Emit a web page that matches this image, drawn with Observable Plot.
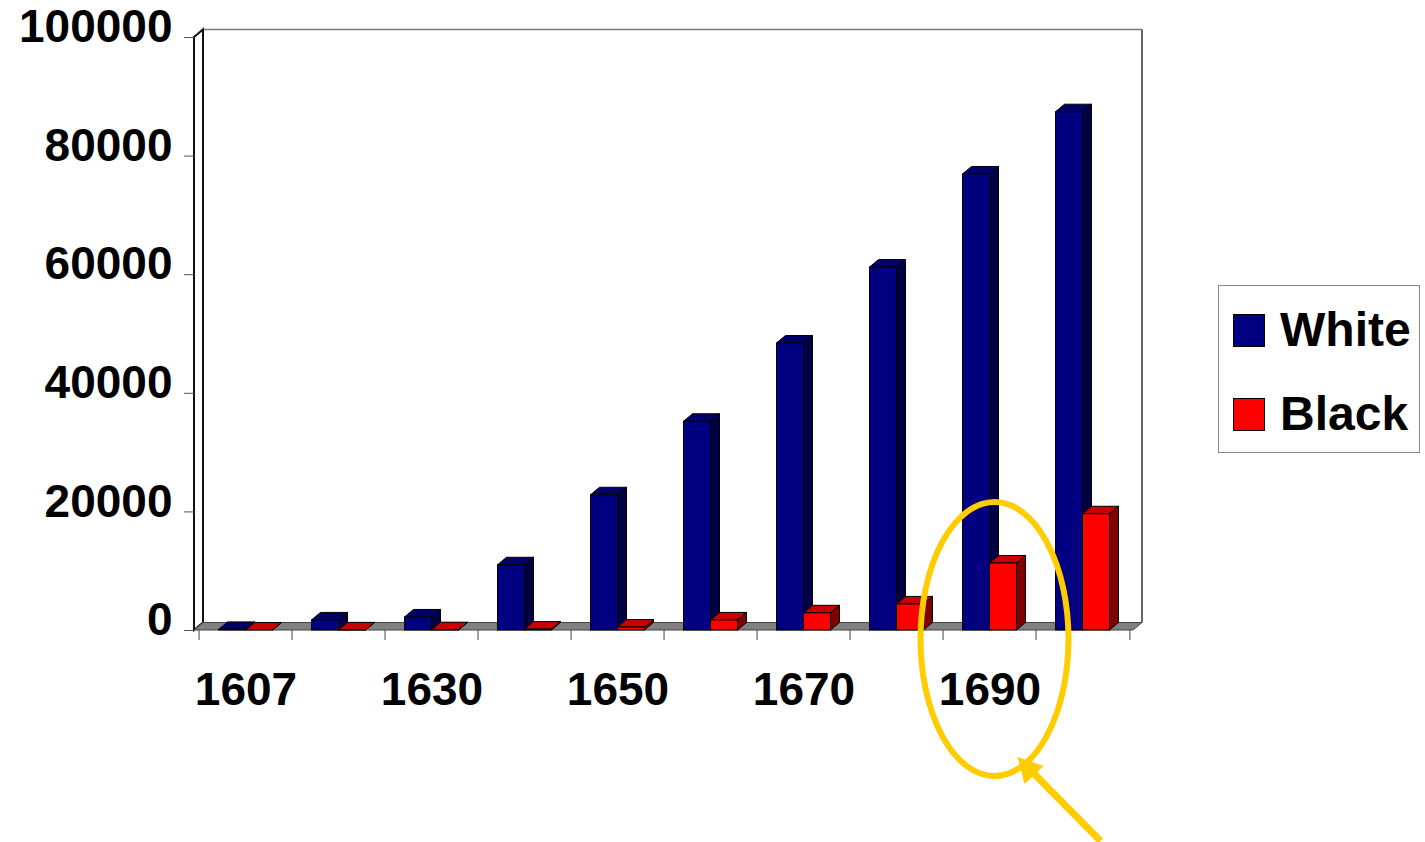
<!DOCTYPE html>
<html>
<head>
<meta charset="utf-8">
<script src="https://cdn.jsdelivr.net/npm/d3@7"></script>
<script src="https://cdn.jsdelivr.net/npm/@observablehq/plot@0.6"></script>
<style>
  html, body { margin: 0; padding: 0; background: #fff; }
  #wrap { position: relative; width: 1425px; height: 842px; }
  #legend { position: absolute; left: 1218px; top: 285px; width: 202px; height: 168px;
    border: 1px solid #888; box-sizing: border-box; background: #fff;
    font-family: "Liberation Sans", Arial, sans-serif; font-weight: bold; font-size: 48px; }
  .item { position: absolute; left: 14px; height: 48px; display: flex; align-items: center; line-height: 48px; }
  .sw { width: 32px; height: 33px; box-sizing: border-box; border: 1px solid #000; margin-right: 15px; }
</style>
</head>
<body>
<div id="wrap">
  <div id="chart"></div>
  <div id="legend"></div>
</div>
<script>
// ---- data ----
const years = [1607, 1620, 1630, 1640, 1650, 1660, 1670, 1680, 1690, 1700];
const whitePop = [100, 1700, 2200, 11000, 22800, 35200, 48400, 61200, 76900, 87400];
const blackPop = [0, 20, 50, 150, 500, 1700, 2900, 4400, 11300, 19600];
const seriesNames = ["White", "Black"];
const xTickLabels = [1607, 1630, 1650, 1670, 1690];
const yTicks = [0, 20000, 40000, 60000, 80000, 100000];
const highlightYear = 1690;

// ---- styles ----
const colors = {
  White: {front: "#000080", top: "#000068", side: "#000044"},
  Black: {front: "#ff0000", top: "#c80000", side: "#800000"}
};
const DX = 9, DY = -7.5;          // 3D depth offset
const HALF = 13.5;                 // half bar width offset
const FONT = "'Liberation Sans', Arial, sans-serif";

const whiteRows = years.map((year, i) => ({year, series: "White", value: whitePop[i]}));
const blackRows = years.map((year, i) => ({year, series: "Black", value: blackPop[i]}));

function bandwidthOf(x) {
  return typeof x.bandwidth === "function" ? x.bandwidth() : (x.bandwidth ?? 27);
}

// walls & floor
function wallsMark(index, scales, values, dims) {
  const {y} = scales;
  const L = dims.marginLeft, R = dims.width - dims.marginRight;
  const T = y(yTicks[yTicks.length - 1]), B = y(0);
  const g = d3.create("svg:g");
  // back wall
  g.append("path").attr("fill", "#fff").attr("stroke", "none")
    .attr("d", `M${L+DX},${T+DY}H${R+DX}V${B+DY}H${L+DX}Z`);
  g.append("path").attr("fill", "none").attr("stroke", "#777").attr("stroke-width", 1.5)
    .attr("d", `M${L+DX},${T+DY}H${R+DX}`);
  g.append("path").attr("fill", "none").attr("stroke", "#333").attr("stroke-width", 1.5)
    .attr("d", `M${R+DX},${T+DY}V${B+DY}`);
  // left wall
  g.append("path").attr("fill", "#fff").attr("stroke", "#111").attr("stroke-width", 2)
    .attr("d", `M${L},${T}L${L+DX},${T+DY}V${B+DY}L${L},${B}Z`);
  // floor
  g.append("path").attr("fill", "#808080").attr("stroke", "#444").attr("stroke-width", 1)
    .attr("d", `M${L},${B}L${L+DX},${B+DY}H${R+DX}L${R},${B}Z`);
  return g.node();
}

// tops and sides of prisms
function prismFaces(rows, dx, c) {
  return (index, scales) => {
    const {x, y} = scales;
    const bw = bandwidthOf(x);
    const g = d3.create("svg:g").attr("stroke", "#000").attr("stroke-width", 1).attr("stroke-linejoin", "round");
    for (const r of rows) {
      const x0 = x(r.year) + dx, x1 = x0 + bw;
      const yb = y(0), yt = y(r.value);
      g.append("path").attr("fill", c.side)
        .attr("d", `M${x1},${yt}L${x1+DX},${yt+DY}L${x1+DX},${yb+DY}L${x1},${yb}Z`);
      g.append("path").attr("fill", c.top)
        .attr("d", `M${x0},${yt}L${x0+DX},${yt+DY}L${x1+DX},${yt+DY}L${x1},${yt}Z`);
    }
    return g.node();
  };
}

// annotation: ellipse around the highlighted year + arrow
function annotation(index, scales) {
  const {x, y} = scales;
  const bw = bandwidthOf(x);
  const cx = x(highlightYear) + bw / 2 + 5, cy = y(0) + 9;
  const g = d3.create("svg:g").attr("stroke", "#ffcc00").attr("fill", "none");
  g.append("ellipse").attr("cx", cx).attr("cy", cy).attr("rx", 74).attr("ry", 137).attr("stroke-width", 6);
  const tip = [cx + 23, cy + 118], tail = [cx + 106, cy + 202];
  g.append("line").attr("x1", tail[0]).attr("y1", tail[1]).attr("x2", tip[0] + 10).attr("y2", tip[1] + 10)
    .attr("stroke-width", 7);
  g.append("path").attr("fill", "#ffcc00").attr("stroke", "none")
    .attr("d", `M${tip[0]},${tip[1]}L${tip[0]+26},${tip[1]+9}L${tip[0]+7},${tip[1]+27}Z`);
  return g.node();
}

const chart = Plot.plot({
  width: 1425,
  height: 842,
  marginLeft: 194,
  marginRight: 292,
  marginTop: 37,
  marginBottom: 212,
  style: {fontFamily: FONT, fontSize: "46px", fontWeight: "bold", color: "#000", background: "#fff", overflow: "visible"},
  x: {type: "band", domain: years, paddingInner: 0.713, paddingOuter: 0.3565},
  y: {domain: [0, 100000]},
  marks: [
    wallsMark,
    // y tick marks
    Plot.axisY({ticks: yTicks, tickSize: 10, tickFormat: () => "", stroke: "#555", label: null}),
    // y labels
    Plot.axisY({ticks: yTicks, tickSize: 0, tickPadding: 22, dy: -10, tickFormat: d3.format("d"),
      label: null, fontSize: 46, fontWeight: "bold", fontFamily: FONT}),
    // x boundary ticks
    Plot.axisX({ticks: years, tickSize: 10, dx: -46.95, tickFormat: () => "", stroke: "#444", label: null}),
    Plot.axisX({ticks: [years[years.length - 1]], tickSize: 10, dx: 46.95, tickFormat: () => "", stroke: "#444", label: null}),
    // White bars
    prismFaces(whiteRows, -HALF, colors.White),
    Plot.barY(whiteRows, {x: "year", y: "value", dx: -HALF, fill: colors.White.front, stroke: "#000", strokeWidth: 1}),
    // Black bars
    prismFaces(blackRows, HALF, colors.Black),
    Plot.barY(blackRows, {x: "year", y: "value", dx: HALF, fill: colors.Black.front, stroke: "#000", strokeWidth: 1}),
    // x labels
    Plot.axisX({ticks: xTickLabels, tickSize: 0, tickPadding: 42, tickFormat: d3.format("d"), label: null,
      fontSize: 46, fontWeight: "bold", fontFamily: FONT}),
    annotation
  ]
});
document.getElementById("chart").appendChild(chart);

// legend
const legend = document.getElementById("legend");
seriesNames.forEach((name, i) => {
  const item = document.createElement("div");
  item.className = "item";
  item.style.top = (20 + i * 84) + "px";
  const sw = document.createElement("div");
  sw.className = "sw";
  sw.style.background = colors[name].front;
  const label = document.createElement("span");
  label.textContent = name;
  item.appendChild(sw);
  item.appendChild(label);
  legend.appendChild(item);
});
</script>
</body>
</html>
